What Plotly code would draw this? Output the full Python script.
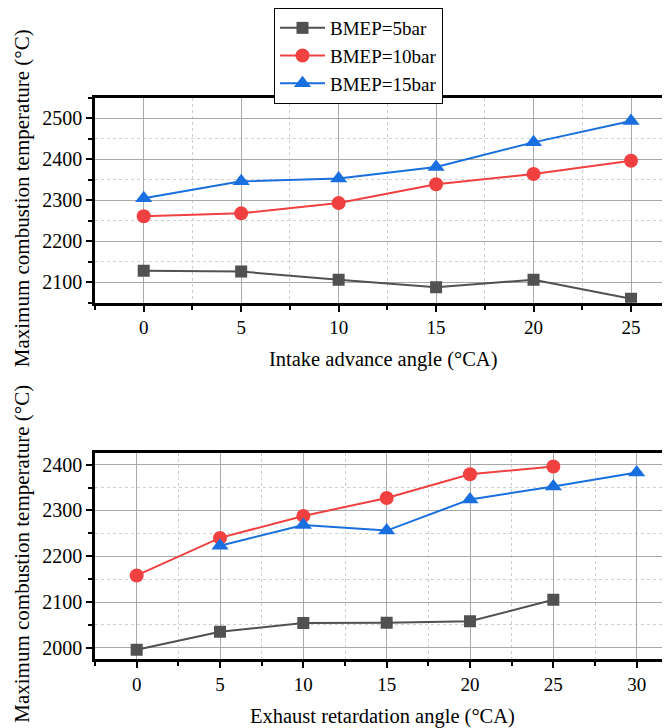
import plotly.graph_objects as go

# Top panel: intake advance angle
intake_x = [0, 5, 10, 15, 20, 25]
intake_5bar = [2128, 2126, 2106, 2088, 2106, 2060]
intake_10bar = [2261, 2268, 2293, 2339, 2364, 2396]
intake_15bar = [2305, 2346, 2353, 2381, 2441, 2493]

# Bottom panel: exhaust retardation angle
exh_x_5bar = [0, 5, 10, 15, 20, 25]
exh_5bar = [1996, 2035, 2054, 2055, 2058, 2105]
exh_x_10bar = [0, 5, 10, 15, 20, 25]
exh_10bar = [2158, 2240, 2288, 2327, 2379, 2396]
exh_x_15bar = [5, 10, 15, 20, 25, 30]
exh_15bar = [2223, 2268, 2256, 2324, 2352, 2383]

names = ["BMEP=5bar", "BMEP=10bar", "BMEP=15bar"]
colors = ["#515151", "#F14040", "#1A6FDF"]
symbols = ["square", "circle", "triangle-up"]
msizes = [12, 14, 15]

FONT = "Liberation Serif"

# page has an 8px body margin; figure drawn at offset (8, 8)
OFF = 8
FW, FH = 670 - OFF, 728 - OFF


def px(rx):
    return (rx - OFF) / FW


def py(ry):
    return 1 - (ry - OFF) / FH


fig = go.Figure()
top_series = [intake_5bar, intake_10bar, intake_15bar]
for i in range(3):
    fig.add_trace(go.Scatter(
        x=intake_x, y=top_series[i], name=names[i], mode="lines+markers",
        line=dict(color=colors[i], width=2),
        marker=dict(symbol=symbols[i], size=msizes[i], color=colors[i]),
        xaxis="x", yaxis="y", showlegend=True))

bot = [(exh_x_5bar, exh_5bar), (exh_x_10bar, exh_10bar), (exh_x_15bar, exh_15bar)]
for i in range(3):
    fig.add_trace(go.Scatter(
        x=bot[i][0], y=bot[i][1], name=names[i], mode="lines+markers",
        line=dict(color=colors[i], width=2),
        marker=dict(symbol=symbols[i], size=msizes[i], color=colors[i]),
        xaxis="x2", yaxis="y2", showlegend=False))


def xax(rng, anchor):
    return dict(range=rng, domain=[px(95), 1], anchor=anchor,
                tickmode="linear", tick0=0, dtick=5,
                ticks="outside", ticklen=6, tickwidth=2, tickcolor="black",
                showline=True, linewidth=2.5, linecolor="black", mirror=True,
                showgrid=True, gridcolor="#a8a8a8", gridwidth=1.2,
                zeroline=False,
                tickfont=dict(family=FONT, size=19, color="black"),
                minor=dict(dtick=2.5, tick0=0, ticks="outside", ticklen=4,
                           tickwidth=2, tickcolor="black", showgrid=True,
                           gridcolor="#cfcfcf", griddash="dot", gridwidth=1))


def yax(rng, dom, anchor):
    return dict(range=rng, domain=dom, anchor=anchor,
                tickmode="linear", tick0=2000, dtick=100,
                ticks="outside", ticklen=6, tickwidth=2, tickcolor="black",
                showline=True, linewidth=2.5, linecolor="black", mirror=False,
                showgrid=True, gridcolor="#a8a8a8", gridwidth=1.2,
                zeroline=False,
                tickfont=dict(family=FONT, size=20, color="black"),
                minor=dict(dtick=50, tick0=2000, ticks="outside", ticklen=4,
                           tickwidth=2, tickcolor="black", showgrid=True,
                           gridcolor="#cfcfcf", griddash="dot", gridwidth=1))


fig.update_layout(
    width=FW, height=FH,
    margin=dict(l=0, r=0, t=0, b=0),
    paper_bgcolor="white", plot_bgcolor="white",
    font=dict(family=FONT, size=20, color="black"),
    xaxis=xax([-2.5, 27.0], "y"),
    yaxis=yax([2050, 2550], [py(301), py(95)], "x"),
    xaxis2=xax([-2.5, 32.0], "y2"),
    yaxis2=yax([1975, 2425], [py(659), py(452)], "x2"),
    legend=dict(x=px(274), y=py(5), xanchor="left", yanchor="top",
                bordercolor="black", borderwidth=1, bgcolor="white",
                font=dict(family=FONT, size=19, color="black"),
                tracegroupgap=0, itemwidth=45),
    showlegend=True,
)

annos = [
    dict(text="Intake advance angle (°CA)", x=px((95 + 670) / 2), y=py(358), size=20.5),
    dict(text="Exhaust retardation angle (°CA)", x=px((95 + 670) / 2), y=py(716), size=20.5),
    dict(text="Maximum combustion temperature (°C)", x=px(22), y=py(196), textangle=-90, size=21),
    dict(text="Maximum combustion temperature (°C)", x=px(22), y=py(553), textangle=-90, size=21),
]
for a in annos:
    size = a.pop("size")
    fig.add_annotation(xref="paper", yref="paper", showarrow=False,
                       xanchor="center", yanchor="middle",
                       font=dict(family=FONT, size=size, color="black"), **a)

fig.write_html("out.html")
